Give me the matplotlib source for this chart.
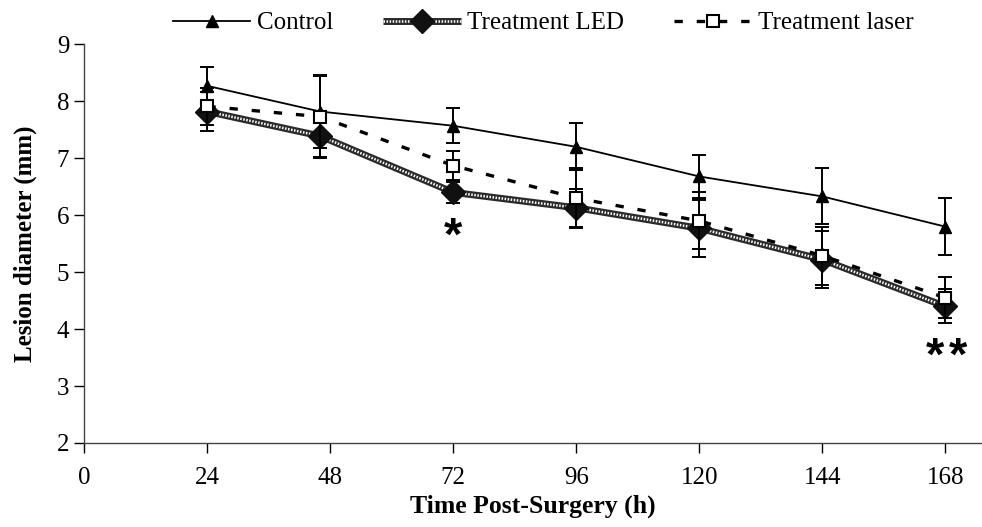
import matplotlib
matplotlib.use("Agg")
import matplotlib.pyplot as plt
from matplotlib.lines import Line2D

plt.rcParams["font.family"] = "serif"
plt.rcParams["font.serif"] = ["Liberation Serif", "DejaVu Serif"]
plt.rcParams["lines.scale_dashes"] = False

# values
time_h = [24, 46, 72, 96, 120, 144, 168]
control = [8.27, 7.82, 7.57, 7.20, 6.68, 6.33, 5.80]
control_err = [0.34, 0.64, 0.31, 0.41, 0.38, 0.49, 0.50]
led = [7.82, 7.39, 6.40, 6.13, 5.77, 5.22, 4.40]
led_err = [0.35, 0.36, 0.19, 0.33, 0.50, 0.50, 0.30]
laser = [7.91, 7.73, 6.87, 6.30, 5.90, 5.29, 4.55]
laser_err = [0.33, 0.72, 0.25, 0.52, 0.50, 0.51, 0.36]

x_ticks = [0, 24, 48, 72, 96, 120, 144, 168]
y_ticks = [2, 3, 4, 5, 6, 7, 8, 9]

# asterisk positions (x, y) in data units
star_pos = [(72, 5.6), (166.0, 3.5), (170.5, 3.5)]

fig = plt.figure(figsize=(9.82, 5.27), dpi=100)
ax = fig.add_axes([0.086, 0.1594, 0.914, 0.7565])

err_kw = dict(fmt="none", ecolor="black", elinewidth=1.4, capsize=4.7, capthick=1.4)

# control
ax.errorbar(time_h, control, yerr=control_err, zorder=2, **err_kw)
ax.plot(time_h, control, color="black", lw=1.3, marker="^", ms=9,
        mfc="black", mec="black", zorder=2.1)

# treatment LED: dark band with light ladder pattern
ax.errorbar(time_h, led, yerr=led_err, zorder=3, **err_kw)
ax.plot(time_h, led, color="#2a2a2a", lw=5, solid_capstyle="butt", zorder=3.1)
led_white, = ax.plot(time_h, led, color="white", lw=1.8, zorder=3.2)
led_white.set_dashes((1.1, 1.1))
ax.plot(time_h, led, ls="none", marker="D", ms=12, mfc="#111111", mec="#111111",
        zorder=3.3)

# treatment laser
ax.errorbar(time_h, laser, yerr=laser_err, zorder=4, **err_kw)
laser_line, = ax.plot(time_h, laser, color="black", lw=2.4, zorder=4.1)
laser_line.set_dashes((6, 10))
ax.plot(time_h, laser, ls="none", marker="s", ms=9, mfc="white", mec="black",
        mew=1.5, zorder=4.2)

# significance marks
for sx, sy in star_pos:
    ax.text(sx, sy, "*", ha="center", va="center", fontsize=34, fontweight="bold",
            family="Liberation Sans")

ax.set_xlim(0, 175.2)
ax.set_ylim(2, 9)
ax.set_xticks(x_ticks)
ax.set_yticks(y_ticks)
ax.tick_params(axis="both", direction="out", length=7, width=1, labelsize=18,
               colors="black")
ax.tick_params(axis="x", pad=10)
ax.tick_params(axis="y", pad=4)
for side in ["top", "right"]:
    ax.spines[side].set_visible(False)
for side in ["left", "bottom"]:
    ax.spines[side].set_color("#444444")
    ax.spines[side].set_linewidth(1)

ax.set_xlabel("Time Post-Surgery (h)", fontsize=18.5, fontweight="bold", labelpad=4)
ax.set_ylabel("Lesion diameter (mm)", fontsize=18, fontweight="bold", labelpad=14)

# legend handles
h_control = Line2D([], [], color="black", lw=1.3, marker="^", ms=9, mfc="black")
h_led_dark = Line2D([], [], color="#2a2a2a", lw=5, solid_capstyle="butt")
h_led_white = Line2D([], [], color="white", lw=1.8, dashes=(1.1, 1.1))
h_led_mark = Line2D([], [], ls="none", marker="D", ms=12, mfc="#111111", mec="#111111")
h_laser = Line2D([], [], color="black", lw=2.4, dashes=(6, 10), marker="s", ms=9,
                 mfc="white", mec="black", mew=1.5)

fig.legend([h_control, (h_led_dark, h_led_white, h_led_mark), h_laser],
           ["Control", "Treatment LED", "Treatment laser"],
           loc="center", bbox_to_anchor=(0.553, 0.956), ncol=3, frameon=False,
           fontsize=18, handlelength=3.1, handletextpad=0.25, columnspacing=2.0,
           borderpad=0)

fig.savefig("out.png", dpi=100)
